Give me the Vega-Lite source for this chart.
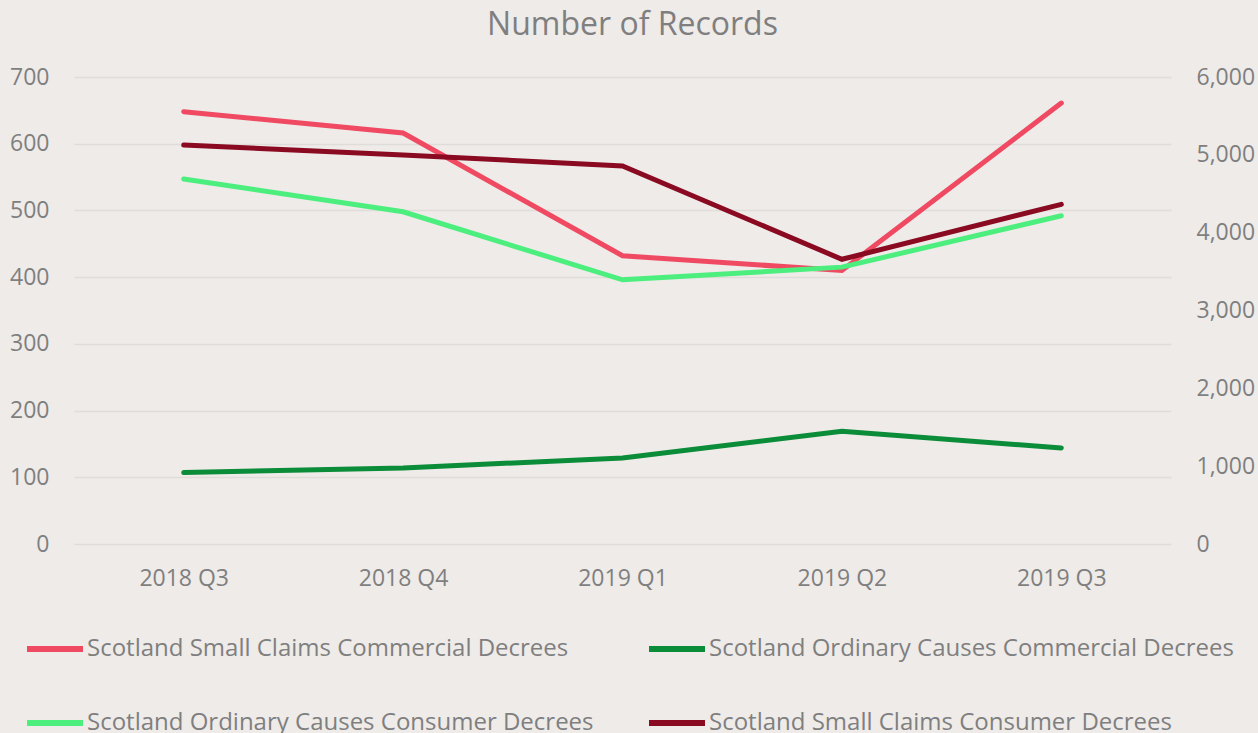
{
  "$schema": "https://vega.github.io/schema/vega-lite/v6.json",
  "width": 1097,
  "height": 467,
  "autosize": {"type": "none"},
  "padding": {"left": 74, "top": 77, "right": 87, "bottom": 189},
  "background": "#EEEBE9",
  "title": {
    "text": "Number of Records",
    "anchor": "middle",
    "frame": "group",
    "dx": 10,
    "dy": -4,
    "fontSize": 32,
    "font": "Open Sans",
    "fontWeight": "normal",
    "color": "#7F7F7F",
    "offset": 20
  },
  "config": {
    "view": {"stroke": null},
    "font": "Open Sans",
    "axis": {
      "labelFont": "Open Sans",
      "labelFontSize": 23,
      "labelColor": "#7F7F7F",
      "domain": false,
      "ticks": false,
      "title": null,
      "labelPadding": 25
    },
    "legend": {
      "labelFont": "Open Sans",
      "labelFontSize": 24,
      "labelColor": "#7F7F7F"
    }
  },
  "data": {
    "values": [
      {"quarter": "2018 Q3", "series": "Scotland Small Claims Commercial Decrees", "value": 648},
      {"quarter": "2018 Q4", "series": "Scotland Small Claims Commercial Decrees", "value": 616},
      {"quarter": "2019 Q1", "series": "Scotland Small Claims Commercial Decrees", "value": 432},
      {"quarter": "2019 Q2", "series": "Scotland Small Claims Commercial Decrees", "value": 410},
      {"quarter": "2019 Q3", "series": "Scotland Small Claims Commercial Decrees", "value": 661},
      {"quarter": "2018 Q3", "series": "Scotland Ordinary Causes Commercial Decrees", "value": 107},
      {"quarter": "2018 Q4", "series": "Scotland Ordinary Causes Commercial Decrees", "value": 114},
      {"quarter": "2019 Q1", "series": "Scotland Ordinary Causes Commercial Decrees", "value": 129},
      {"quarter": "2019 Q2", "series": "Scotland Ordinary Causes Commercial Decrees", "value": 169},
      {"quarter": "2019 Q3", "series": "Scotland Ordinary Causes Commercial Decrees", "value": 144},
      {"quarter": "2018 Q3", "series": "Scotland Ordinary Causes Consumer Decrees", "value": 547},
      {"quarter": "2018 Q4", "series": "Scotland Ordinary Causes Consumer Decrees", "value": 498},
      {"quarter": "2019 Q1", "series": "Scotland Ordinary Causes Consumer Decrees", "value": 396},
      {"quarter": "2019 Q2", "series": "Scotland Ordinary Causes Consumer Decrees", "value": 415},
      {"quarter": "2019 Q3", "series": "Scotland Ordinary Causes Consumer Decrees", "value": 492},
      {"quarter": "2018 Q3", "series": "Scotland Small Claims Consumer Decrees", "value": 5126},
      {"quarter": "2018 Q4", "series": "Scotland Small Claims Consumer Decrees", "value": 4998},
      {"quarter": "2019 Q1", "series": "Scotland Small Claims Consumer Decrees", "value": 4857},
      {"quarter": "2019 Q2", "series": "Scotland Small Claims Consumer Decrees", "value": 3658},
      {"quarter": "2019 Q3", "series": "Scotland Small Claims Consumer Decrees", "value": 4364}
    ]
  },
  "encoding": {
    "x": {
      "field": "quarter",
      "type": "ordinal",
      "sort": null,
      "scale": {"type": "point", "padding": 0.5},
      "axis": {"labelAngle": 0, "grid": false, "labelPadding": 23}
    },
    "color": {
      "field": "series",
      "type": "nominal",
      "scale": {
        "domain": [
          "Scotland Small Claims Commercial Decrees",
          "Scotland Ordinary Causes Commercial Decrees",
          "Scotland Ordinary Causes Consumer Decrees",
          "Scotland Small Claims Consumer Decrees"
        ],
        "range": ["#F04A63", "#0B8C38", "#4CEE7E", "#8A0A22"]
      },
      "legend": {
        "orient": "none",
        "direction": "horizontal",
        "legendX": -50,
        "legendY": 541,
        "columns": 2,
        "title": null,
        "symbolType": "stroke",
        "symbolSize": 3136,
        "symbolStrokeWidth": 6,
        "labelOffset": 1,
        "columnPadding": 43,
        "rowPadding": 31,
        "padding": 0,
        "labelLimit": 700
      }
    }
  },
  "layer": [
    {
      "transform": [{"filter": "datum.series !== 'Scotland Small Claims Consumer Decrees'"}],
      "mark": {"type": "line", "strokeWidth": 5, "strokeCap": "round", "strokeJoin": "miter"},
      "encoding": {
        "y": {
          "field": "value",
          "type": "quantitative",
          "scale": {"domain": [0, 700]},
          "axis": {"values": [0, 100, 200, 300, 400, 500, 600, 700], "grid": true, "gridColor": "#DFDCDA", "gridWidth": 1.5, "orient": "left"}
        }
      }
    },
    {
      "transform": [{"filter": "datum.series === 'Scotland Small Claims Consumer Decrees'"}],
      "mark": {"type": "line", "strokeWidth": 5, "strokeCap": "round", "strokeJoin": "miter"},
      "encoding": {
        "y": {
          "field": "value",
          "type": "quantitative",
          "scale": {"domain": [0, 6000]},
          "axis": {"values": [0, 1000, 2000, 3000, 4000, 5000, 6000], "format": ",.0f", "grid": false, "orient": "right", "labelAlign": "left"}
        }
      }
    }
  ],
  "resolve": {"scale": {"y": "independent"}}
}
